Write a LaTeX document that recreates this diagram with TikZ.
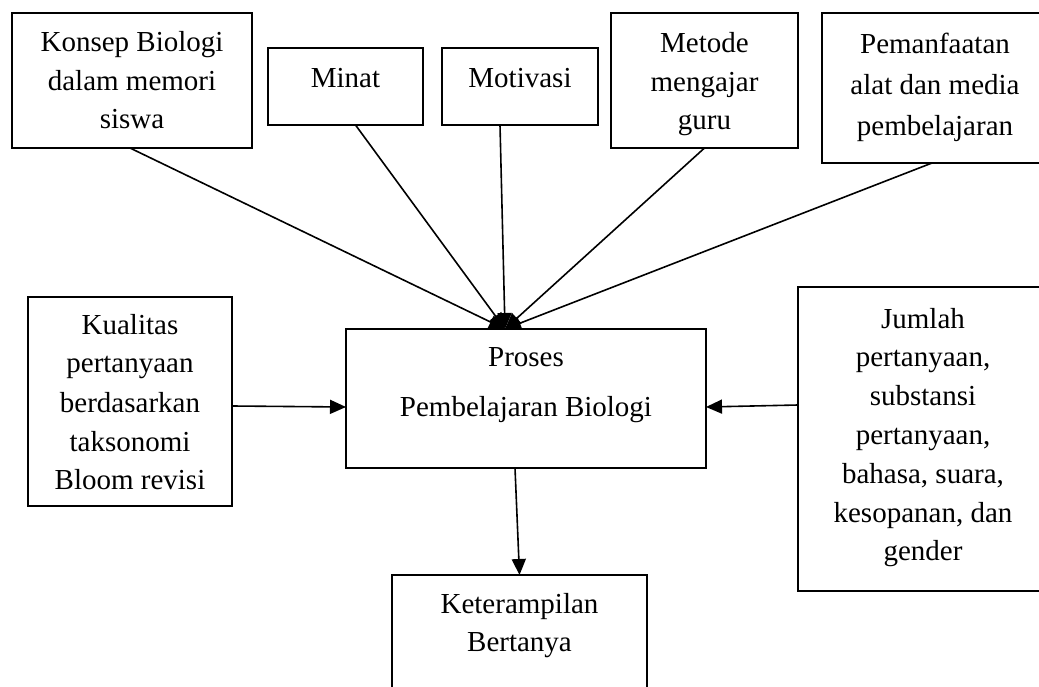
\documentclass[tikz,border=0pt]{standalone}
\usepackage{fontspec}
\setmainfont{Liberation Serif}
\usetikzlibrary{arrows.meta}
\newcommand{\mlines}[2]{\parbox[t]{330pt}{\centering\fontsize{29}{#1}\selectfont #2}}
\begin{document}
\begin{tikzpicture}[x=1pt,y=-1pt,
  box/.style={draw, line width=1.7pt, inner sep=0pt, outer sep=0pt, anchor=north west},
  txt/.style={inner sep=0pt, outer sep=0pt, anchor=base},
  arr/.style={line width=1.6pt, -{Triangle[length=16pt,width=14pt]}}]
\useasboundingbox (0,0) rectangle (1039,687);
\fill[white] (0,0) rectangle (1039,687);
\clip (0,0) rectangle (1039,687);

% boxes
\node[box, minimum width=240pt, minimum height=135pt] (konsep) at (12,13) {};
\node[box, minimum width=155pt, minimum height=77pt] (minat) at (268,48) {};
\node[box, minimum width=156pt, minimum height=77pt] (motivasi) at (442,48) {};
\node[box, minimum width=187pt, minimum height=135pt] (metode) at (611,13) {};
\node[box, minimum width=226pt, minimum height=150pt] (pemanf) at (822,13) {};
\node[box, minimum width=204pt, minimum height=209pt] (kualitas) at (28,297) {};
\node[box, minimum width=360pt, minimum height=139pt] (proses) at (346,329) {};
\node[box, minimum width=250pt, minimum height=304pt] (jumlah) at (798,287) {};
\node[box, minimum width=255pt, minimum height=150pt] (keter) at (392,575) {};

% texts
\node[txt] (tkonsep) at (132,52) {\mlines{38.5}{Konsep Biologi\\dalam memori\\siswa}};
\node[txt] (tminat) at (345.5,88) {\mlines{38.5}{Minat}};
\node[txt] (tmotivasi) at (520,88) {\mlines{38.5}{Motivasi}};
\node[txt] (tmetode) at (704.5,53) {\mlines{38.5}{Metode\\mengajar\\guru}};
\node[txt] (tpemanf) at (935,54) {\mlines{41}{Pemanfaatan\\alat dan media\\pembelajaran}};
\node[txt] (tkualitas) at (130,334) {\mlines{39}{Kualitas\\pertanyaan\\berdasarkan\\taksonomi\\Bloom revisi}};
\node[txt] (tproses) at (526,366) {\mlines{50}{Proses\\Pembelajaran Biologi}};
\node[txt] (tjumlah) at (923,328) {\mlines{38.8}{Jumlah\\pertanyaan,\\substansi\\pertanyaan,\\bahasa, suara,\\kesopanan, dan\\gender}};
\node[txt] (tketer) at (519.5,613) {\mlines{38}{Keterampilan\\Bertanya}};

% connectors
\coordinate (conv) at ([xshift=-21pt]proses.north);
\draw[arr] ([xshift=-2pt]konsep.south) -- (conv);
\draw[arr] ([xshift=10pt]minat.south) -- (conv);
\draw[arr] ([xshift=-20pt]motivasi.south) -- (conv);
\draw[arr] (metode.south) -- (conv);
\draw[arr] ([xshift=-3pt]pemanf.south) -- (conv);
\draw[arr] ([yshift=-4.5pt]kualitas.east) -- ([yshift=-8.5pt]proses.west);
\draw[arr] ([yshift=34pt]jumlah.west) -- ([yshift=-8.5pt]proses.east);
\draw[arr] ([xshift=-11pt]proses.south) -- (keter.north);
\end{tikzpicture}
\end{document}
